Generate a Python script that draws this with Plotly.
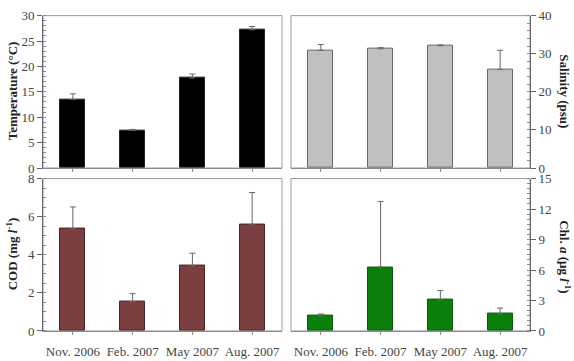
import plotly.graph_objects as go

months = ["Nov. 2006", "Feb. 2007", "May 2007", "Aug. 2007"]
temperature = [13.5, 7.4, 17.7, 27.2]
temperature_sd = [1.1, 0.2, 0.8, 0.65]
salinity = [30.9, 31.3, 32.1, 25.9]
salinity_sd = [1.5, 0.3, 0.2, 5.0]
cod = [5.37, 1.55, 3.42, 5.57]
cod_sd = [1.14, 0.41, 0.66, 1.70]
chl = [1.47, 6.28, 3.06, 1.69]
chl_sd = [0.2, 6.47, 0.91, 0.56]
zeros = [0, 0, 0, 0]

W, H = 574, 361
SERIF = "Liberation Serif, Times New Roman, serif"
TICKCOL = "#444"

xl = [43 / W, 282 / W]
xr = [291 / W, 530 / W]
yt = [1 - 168 / H, 1 - 9 / H]
yb = [1 - 338 / H, 1 - 179 / H]

fig = go.Figure()


def add_bar(y, sd, color, edge, xa, ya):
    fig.add_trace(go.Bar(
        x=months, y=y, width=0.42,
        marker=dict(color=color, line=dict(color=edge, width=1)),
        error_y=dict(type="data", array=sd, arrayminus=zeros, symmetric=False,
                     color="#666", thickness=1, width=3),
        xaxis=xa, yaxis=ya, showlegend=False,
    ))


add_bar(temperature, temperature_sd, "#000000", "#222", "x", "y")
add_bar(salinity, salinity_sd, "#c0c0c0", "#666", "x2", "y2")
add_bar(cod, cod_sd, "#7b3f3f", "#4a2626", "x3", "y3")
add_bar(chl, chl_sd, "#0a800a", "#0a5a0a", "x4", "y4")


def xax(domain, anchor, labels):
    return dict(domain=domain, anchor=anchor, range=[-0.5, 3.5], type="category",
                showticklabels=labels, ticks="outside", ticklen=3, tickcolor="#888",
                ticklabelstandoff=5,
                showline=True, linecolor="#888", linewidth=1, showgrid=False,
                zeroline=False,
                tickfont=dict(family=SERIF, size=13, color=TICKCOL))


def yax(domain, anchor, rng, dtick, mdtick, side):
    return dict(domain=domain, anchor=anchor, range=rng, dtick=dtick, side=side,
                ticks="outside", ticklen=5, tickcolor="#666",
                minor=dict(dtick=mdtick, ticks="inside", ticklen=3, tickcolor="#888"),
                showline=True, linecolor="#666", linewidth=1, showgrid=False,
                zeroline=False,
                tickfont=dict(family=SERIF, size=13, color=TICKCOL))


fig.update_layout(
    width=W, height=H, margin=dict(l=0, r=0, t=0, b=0),
    paper_bgcolor="white", plot_bgcolor="white", showlegend=False,
    bargap=0,
    xaxis=xax(xl, "y", False),
    xaxis2=xax(xr, "y2", False),
    xaxis3=xax(xl, "y3", True),
    xaxis4=xax(xr, "y4", True),
    yaxis=yax(yt, "x", [0, 30], 5, 1, "left"),
    yaxis2=yax(yt, "x2", [0, 40], 10, 2, "right"),
    yaxis3=yax(yb, "x3", [0, 8], 2, 0.5, "left"),
    yaxis4=yax(yb, "x4", [0, 15], 3, 0.5, "right"),
)

shapes = []
for xa, ya in [("x", "y"), ("x2", "y2"), ("x3", "y3"), ("x4", "y4")]:
    shapes.append(dict(type="rect", xref=f"{xa} domain", yref=f"{ya} domain",
                       x0=0, x1=1, y0=0, y1=1, line=dict(color="#999", width=1),
                       layer="below"))
fig.update_layout(shapes=shapes)

tfont = dict(family=SERIF, size=13, color="#222")
ann = [
    dict(text="<b>Temperature (°C)</b>", x=12 / W, y=1 - 88 / H, textangle=-90),
    dict(text="<b>COD (mg <i>l</i><sup>-1</sup>)</b>", x=12 / W, y=1 - 258 / H, textangle=-90),
    dict(text="<b>Salinity (psu)</b>", x=565 / W, y=1 - 88 / H, textangle=90),
    dict(text="<b>Chl. <i>a</i> (μg <i>l</i><sup>-1</sup>)</b>", x=565 / W, y=1 - 260 / H, textangle=90),
]
for a in ann:
    a.update(xref="paper", yref="paper", showarrow=False, font=tfont,
             xanchor="center", yanchor="middle")
fig.update_layout(annotations=ann)

fig.write_html("out.html")
